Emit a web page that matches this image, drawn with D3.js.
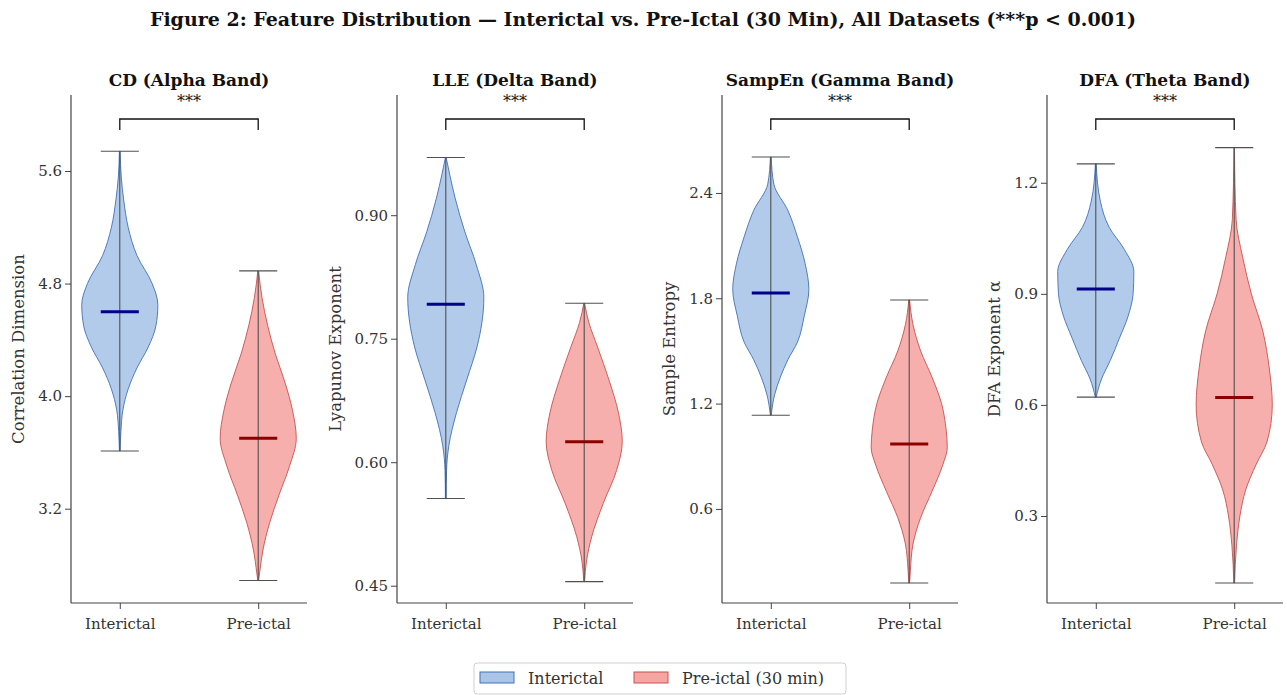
<!DOCTYPE html>
<html lang="en">
<head>
  <meta charset="UTF-8">
  <title>Figure 2: Feature Distribution</title>
  <script src="https://cdnjs.cloudflare.com/ajax/libs/d3/7.8.5/d3.min.js"></script>
  <style>
    body { margin: 0; background: #fff; }
    svg { font-family: "DejaVu Serif", serif; }
    .tick text { font-family: "DejaVu Serif", serif; font-size: 15px; fill: #333; }
    .tick line { stroke: #444; }
    .ptitle { font-weight: bold; font-size: 17px; fill: #111; text-anchor: middle; }
    .ylab { font-size: 16.5px; fill: #333; text-anchor: middle; }
  </style>
</head>
<body>
  <svg width="1287" height="695"></svg>
  <script>
    // panel titles, labels, axis ranges, ticks
    const titles = ['CD (Alpha Band)', 'LLE (Delta Band)', 'SampEn (Gamma Band)', 'DFA (Theta Band)']
    const yLabels = ['Correlation Dimension', 'Lyapunov Exponent', 'Sample Entropy', 'DFA Exponent \u03b1']
    const yDomains = [[2.53, 6.14], [0.429, 1.046], [0.064, 2.958], [0.065, 1.437]]
    const yTicks = [[3.2, 4.0, 4.8, 5.6], [0.45, 0.60, 0.75, 0.90], [0.6, 1.2, 1.8, 2.4], [0.3, 0.6, 0.9, 1.2]]
    const tickFormats = ['.1f', '.2f', '.1f', '.1f']
    const groups = ['Interictal', 'Pre-ictal']

    // whisker min / max and mean per panel: [interictal, pre-ictal]
    const mins = [[3.61, 2.69], [0.556, 0.455], [1.134, 0.178], [0.621, 0.119]]
    const maxs = [[5.74, 4.89], [0.970, 0.793], [2.605, 1.79], [1.251, 1.295]]
    const means = [[4.60, 3.70], [0.792, 0.625], [1.83, 0.97], [0.913, 0.62]]

    // density outlines: [value, relative half width]
    const interictalShapes = [
      [[5.74, 0.01], [5.55, 0.04], [5.40, 0.1], [5.20, 0.22], [5.00, 0.45], [4.80, 0.85], [4.65, 1.0], [4.50, 0.95], [4.35, 0.75], [4.20, 0.45], [4.05, 0.22], [3.90, 0.08], [3.75, 0.03], [3.61, 0.01]],
      [[0.970, 0.01], [0.95, 0.1], [0.92, 0.25], [0.88, 0.5], [0.84, 0.8], [0.80, 1.0], [0.77, 0.95], [0.74, 0.82], [0.70, 0.55], [0.66, 0.28], [0.62, 0.08], [0.59, 0.02], [0.556, 0.01]],
      [[2.605, 0.01], [2.45, 0.08], [2.30, 0.45], [2.15, 0.7], [2.0, 0.9], [1.85, 1.0], [1.70, 0.88], [1.55, 0.7], [1.45, 0.45], [1.35, 0.25], [1.25, 0.1], [1.134, 0.01]],
      [[1.251, 0.01], [1.15, 0.12], [1.08, 0.35], [1.02, 0.75], [0.96, 1.0], [0.90, 0.98], [0.84, 0.85], [0.78, 0.62], [0.72, 0.38], [0.67, 0.15], [0.621, 0.01]]
    ]
    const preictalShapes = [
      [[4.89, 0.01], [4.70, 0.1], [4.50, 0.25], [4.30, 0.45], [4.10, 0.7], [3.90, 0.9], [3.70, 1.0], [3.50, 0.82], [3.30, 0.55], [3.10, 0.3], [2.90, 0.12], [2.75, 0.04], [2.69, 0.01]],
      [[0.793, 0.01], [0.77, 0.12], [0.74, 0.35], [0.70, 0.65], [0.66, 0.9], [0.625, 1.0], [0.59, 0.85], [0.55, 0.5], [0.51, 0.2], [0.48, 0.06], [0.455, 0.01]],
      [[1.79, 0.01], [1.65, 0.1], [1.50, 0.3], [1.35, 0.6], [1.20, 0.85], [1.05, 0.97], [0.95, 1.0], [0.85, 0.88], [0.70, 0.6], [0.55, 0.3], [0.40, 0.1], [0.25, 0.03], [0.178, 0.01]],
      [[1.295, 0.005], [1.10, 0.05], [1.00, 0.22], [0.90, 0.45], [0.80, 0.75], [0.70, 0.92], [0.60, 1.0], [0.50, 0.86], [0.44, 0.58], [0.37, 0.3], [0.30, 0.15], [0.22, 0.06], [0.119, 0.01]]
    ]

    const legendLabels = ['Interictal', 'Pre-ictal (30 min)']
    const fills = ['#abc5e9', '#f5a6a3']
    const strokes = ['#4070b8', '#c8504c']
    const meanColors = ['#00008b', '#8b0000']

    const svg = d3.select('svg')
    const panelLeft = [71, 397, 722, 1047]
    const pw = 236, plotTop = 95, plotBottom = 603
    const violinWidth = 0.55

    svg.append('text')
      .attr('x', 643).attr('y', 26)
      .attr('text-anchor', 'middle')
      .attr('font-weight', 'bold')
      .attr('font-size', 19)
      .attr('fill', '#111')
      .text('Figure 2: Feature Distribution \u2014 Interictal vs. Pre-Ictal (30 Min), All Datasets (***p < 0.001)')

    titles.forEach((t, i) => {
      const g = svg.append('g').attr('transform', `translate(${panelLeft[i]},0)`)
      const x = d3.scaleLinear().domain([0.6475, 2.3525]).range([0, pw])
      const y = d3.scaleLinear().domain(yDomains[i]).range([plotBottom, plotTop])
      const hw = x(1 + violinWidth / 2) - x(1)

      // violins
      const shapes = [interictalShapes[i], preictalShapes[i]]
      shapes.forEach((s, k) => {
        const cx = x(k + 1)
        const area = d3.area()
          .curve(d3.curveMonotoneY)
          .y(d => y(d[0]))
          .x0(d => cx - d[1] * hw)
          .x1(d => cx + d[1] * hw)
        g.append('path')
          .attr('d', area(s))
          .attr('fill', fills[k])
          .attr('fill-opacity', 0.9)
          .attr('stroke', strokes[k])
          .attr('stroke-width', 0.9)

        // center bar and caps
        g.append('line')
          .attr('x1', cx).attr('x2', cx)
          .attr('y1', y(mins[i][k])).attr('y2', y(maxs[i][k]))
          .attr('stroke', '#505050').attr('stroke-width', 1.1)
        ;[mins[i][k], maxs[i][k]].forEach(v => {
          g.append('line')
            .attr('x1', cx - hw / 2).attr('x2', cx + hw / 2)
            .attr('y1', y(v)).attr('y2', y(v))
            .attr('stroke', '#505050').attr('stroke-width', 1.1)
        })
        g.append('line')
          .attr('x1', cx - hw / 2).attr('x2', cx + hw / 2)
          .attr('y1', y(means[i][k])).attr('y2', y(means[i][k]))
          .attr('stroke', meanColors[k]).attr('stroke-width', 3)
      })

      // axes
      g.append('g')
        .attr('transform', `translate(0,${plotBottom})`)
        .call(d3.axisBottom(x).tickValues([1, 2]).tickFormat((d, j) => groups[j]).tickSize(6).tickPadding(9))
        .attr('font-family', null).attr('font-size', null)
      const ya = g.append('g')
        .call(d3.axisLeft(y).tickValues(yTicks[i]).tickFormat(d3.format(tickFormats[i])).tickSize(6).tickPadding(3))
        .attr('font-family', null).attr('font-size', null)
      g.selectAll('.domain').remove()
      g.append('line').attr('x1', 0).attr('x2', 0).attr('y1', plotTop).attr('y2', plotBottom).attr('stroke', '#444').attr('stroke-width', 1.2)
      g.append('line').attr('x1', 0).attr('x2', pw).attr('y1', plotBottom).attr('y2', plotBottom).attr('stroke', '#444').attr('stroke-width', 1.2)

      // significance bracket
      const by = plotTop + 24
      g.append('path')
        .attr('d', `M${x(1)},${by + 11}V${by}H${x(2)}V${by + 11}`)
        .attr('fill', 'none').attr('stroke', '#111').attr('stroke-width', 1.3)
      g.append('text')
        .attr('x', (x(1) + x(2)) / 2).attr('y', by - 12)
        .attr('text-anchor', 'middle').attr('font-size', 16).attr('fill', '#111')
        .text('***')

      g.append('text').attr('class', 'ptitle').attr('x', pw / 2).attr('y', 86).text(t)
      const lx = ya.node().getBBox().x - 14
      g.append('text').attr('class', 'ylab')
        .attr('transform', `translate(${lx},${(plotTop + plotBottom) / 2}) rotate(-90)`)
        .text(yLabels[i])
    })

    // legend
    const lg = svg.append('g').attr('transform', 'translate(474,663)')
    lg.append('rect').attr('width', 372).attr('height', 31).attr('rx', 3)
      .attr('fill', '#fff').attr('stroke', '#d0d0d0')
    const lx = [6, 160]
    legendLabels.forEach((l, k) => {
      lg.append('rect').attr('x', lx[k]).attr('y', 9).attr('width', 34).attr('height', 11)
        .attr('fill', fills[k]).attr('stroke', strokes[k])
      lg.append('text').attr('x', lx[k] + 48).attr('y', 20.5).attr('font-size', 16).attr('fill', '#333').text(l)
    })
  </script>
</body>
</html>
